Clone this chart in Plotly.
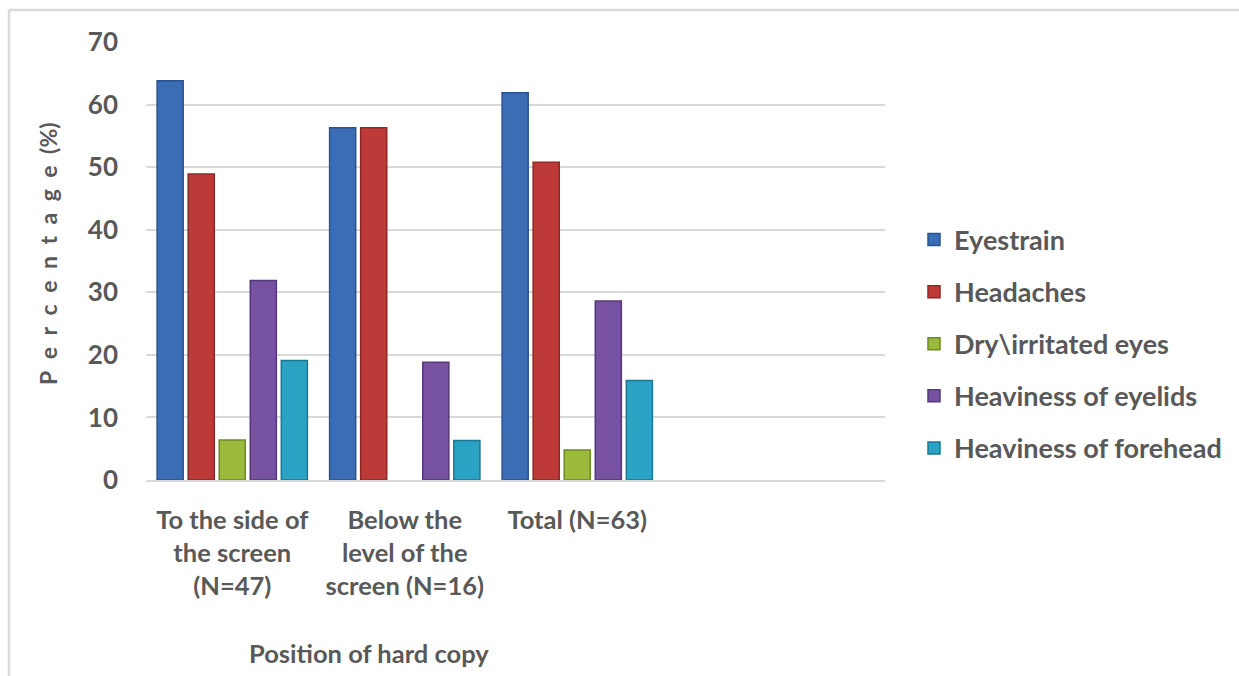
import plotly.graph_objects as go

# Hard-copy position groups (fourth slot left empty, as in the axis layout)
categories = [
    "To the side of<br>the screen<br>(N=47)",
    "Below the<br>level of the<br>screen (N=16)",
    "Total (N=63)",
]

symptoms = [
    "Eyestrain",
    "Headaches",
    "Dry\\irritated eyes",
    "Heaviness of eyelids",
    "Heaviness of forehead",
]

# Percentage reporting each symptom, per group
eyestrain = [63.8, 56.3, 61.9]
headaches = [48.9, 56.3, 50.8]
dry_eyes = [6.4, 0.0, 4.8]
heavy_eyelids = [31.9, 18.8, 28.6]
heavy_forehead = [19.1, 6.3, 15.9]

series = [eyestrain, headaches, dry_eyes, heavy_eyelids, heavy_forehead]
fill_colors = ["#3A6DB4", "#BE3A38", "#9BBA3C", "#7652A0", "#2AA3C4"]
edge_colors = ["#2A5290", "#8E2826", "#6F8A25", "#553879", "#1B7892"]

TEXT = "#595959"
FONT = "Lato"

fig = go.Figure()
for i, (name, vals) in enumerate(zip(symptoms, series)):
    fig.add_trace(go.Bar(
        x=categories,
        y=vals,
        name=name,
        legendgroup=f"g{i}",
        marker=dict(color=fill_colors[i],
                    line=dict(color=edge_colors[i],
                              width=[1.5 if v > 0 else 0 for v in vals])),
    ))

W, H = 1239, 676
L, R, T, B = 146, 354, 42, 196
pw, ph = W - L - R, H - T - B


def px_x(x):
    return (x - L) / pw


def px_y(y):
    return (H - B - y) / ph


fig.update_layout(
    width=W,
    height=H,
    margin=dict(l=L, r=R, t=T, b=B, autoexpand=False),
    paper_bgcolor="white",
    plot_bgcolor="white",
    barmode="group",
    bargap=0.1,
    bargroupgap=0.16,
    font=dict(family=FONT, color=TEXT, size=26, weight="bold"),
    showlegend=True,
    legend=dict(
        x=px_x(914), y=px_y(344), xanchor="left", yanchor="middle",
        font=dict(family=FONT, size=27, color=TEXT, weight="bold"),
        tracegroupgap=14,
        bgcolor="rgba(0,0,0,0)",
    ),
    xaxis=dict(
        type="category",
        range=[-0.5, 3.784],
        showgrid=False,
        showline=True,
        linecolor="#d9d9d9",
        linewidth=2,
        ticks="",
        ticklabelstandoff=16,
        tickfont=dict(family=FONT, size=25.5, color=TEXT, weight="bold"),
    ),
    yaxis=dict(
        range=[0, 70],
        dtick=10,
        showgrid=True,
        gridcolor="#d9d9d9",
        gridwidth=2,
        zeroline=False,
        showline=False,
        ticks="",
        ticklabelstandoff=27,
        tickfont=dict(family=FONT, size=26, color=TEXT, weight="bold"),
    ),
    annotations=[
        dict(
            text="P\u2002e\u2002r\u2002c\u2002e\u2002n\u2002t\u2002a\u2002g\u2002e\u2002(%)",
            xref="paper", yref="paper",
            x=px_x(48), y=px_y(253),
            xanchor="center", yanchor="middle",
            textangle=-90, showarrow=False,
            font=dict(family=FONT, size=23, color=TEXT, weight="bold"),
        ),
        dict(
            text="Position of hard copy",
            xref="paper", yref="paper",
            x=px_x(369), y=px_y(653),
            xanchor="center", yanchor="middle",
            showarrow=False,
            font=dict(family=FONT, size=25.5, color=TEXT, weight="bold"),
        ),
    ],
    shapes=[
        dict(type="line", xref="paper", yref="paper",
             x0=px_x(9), x1=px_x(9), y0=px_y(10), y1=px_y(H),
             line=dict(color="#d9d9d9", width=2.5)),
        dict(type="line", xref="paper", yref="paper",
             x0=px_x(9), x1=px_x(W), y0=px_y(10), y1=px_y(10),
             line=dict(color="#d9d9d9", width=2.5)),
    ],
)

fig.write_html("out.html")
